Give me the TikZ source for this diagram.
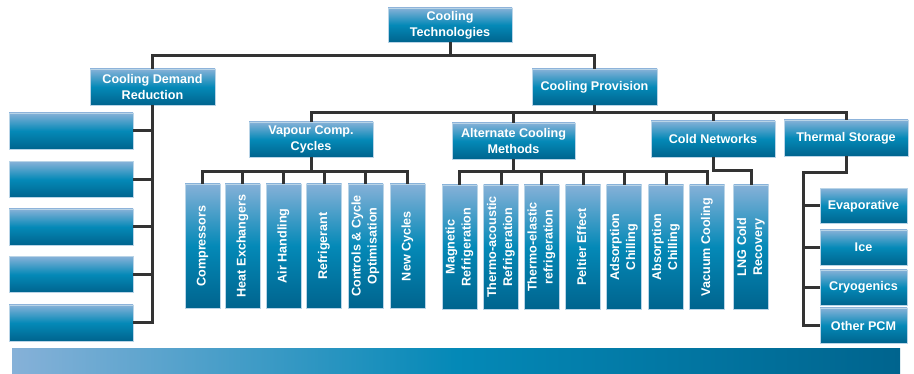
\documentclass[tikz,border=0pt]{standalone}
\usepackage{fontspec}
\setmainfont{Liberation Sans}
\usepackage{graphicx}
\definecolor{btop}{HTML}{86B1D8}
\definecolor{bmid}{HTML}{0489B7}
\definecolor{bbot}{HTML}{00648E}
\definecolor{bedge}{HTML}{B9D4E7}
\definecolor{lineclr}{HTML}{333333}
\newcommand{\vlab}[1]{\rotatebox{90}{\begin{tabular}{@{}c@{}}#1\end{tabular}}}
\begin{document}
\begin{tikzpicture}[x=1pt,y=-1pt,
  boxbase/.style={draw=bedge, line width=0.8pt, top color=btop, bottom color=bbot, middle color=bmid,
    text=white, font=\fontsize{12.6}{16}\selectfont\bfseries, align=center, inner sep=0pt},
  hbox/.style={boxbase, minimum width=124pt, minimum height=36pt},
  vbox/.style={boxbase, minimum width=35pt, minimum height=124pt},
  tbox/.style={boxbase, minimum width=87pt, minimum height=35pt},
  conn/.style={draw=lineclr, line width=3pt, line join=miter}
]
\useasboundingbox (0,0) rectangle (914,374);

% bottom bar
\node[draw=none, inner sep=0pt, minimum width=888pt, minimum height=25pt,
  left color=btop, right color=bbot, middle color=bmid] (bar) at (456,361.5) {};

% top levels
\node[hbox, minimum height=34pt] (CT) at (450,25) {Cooling\\Technologies};
\node[hbox, minimum width=125pt] (CDR) at (152.5,87) {Cooling Demand\\Reduction};
\node[hbox, minimum width=125pt] (CP) at (594.5,87) {Cooling Provision};

% demand reduction boxes
\foreach \i/\yy in {1/131,2/179.5,3/227,4/274.5,5/323}
  \node[hbox] (L\i) at (71,\yy) {};

% provision level
\node[hbox, minimum height=35pt] (VCC) at (311,139.5) {Vapour Comp.\\Cycles};
\node[hbox, minimum width=123pt] (ACM) at (513.5,141) {Alternate Cooling\\Methods};
\node[hbox] (CN) at (713,139) {Cold Networks};
\node[hbox] (TS) at (846,138) {Thermal Storage};

% vapour compression children
\node[vbox] (V1) at (202.5,246) {\vlab{Compressors}};
\node[vbox] (V2) at (242.5,246) {\vlab{Heat Exchangers}};
\node[vbox] (V3) at (283.5,246) {\vlab{Air Handling}};
\node[vbox] (V4) at (324,246) {\vlab{Refrigerant}};
\node[vbox] (V5) at (365.5,246) {\vlab{Controls \& Cycle\\Optimisation}};
\node[vbox] (V6) at (407.5,246) {\vlab{New Cycles}};

% alternate cooling children
\node[vbox] (A1) at (459.5,247) {\vlab{Magnetic\\Refrigeration}};
\node[vbox] (A2) at (501,247) {\vlab{Thermo-acoustic\\Refrigeration}};
\node[vbox] (A3) at (541.5,247) {\vlab{Thermo-elastic\\refrigeration}};
\node[vbox] (A4) at (583,247) {\vlab{Peltier Effect}};
\node[vbox] (A5) at (624,247) {\vlab{Adsorption\\Chilling}};
\node[vbox] (A6) at (666,247) {\vlab{Absorption\\Chilling}};
\node[vbox] (A7) at (707,247) {\vlab{Vacuum Cooling}};
\node[vbox] (LNG) at (751,247) {\vlab{LNG Cold\\Recovery}};

% thermal storage children
\node[tbox] (T1) at (863.5,206) {Evaporative};
\node[tbox] (T2) at (863.5,247.5) {Ice};
\node[tbox] (T3) at (863.5,287.5) {Cryogenics};
\node[tbox] (T4) at (863.5,325.5) {Other PCM};

% bus coordinates
\coordinate (b1) at (0,56);
\coordinate (b2) at (0,113);
\coordinate (b3) at (0,172);
\coordinate (cnj) at (0,171);
\coordinate (tsj) at (803,173);

% connectors
\draw[conn] (CDR.north) -- (CDR.north |- b1) -- (CP.north |- b1) -- (CP.north);
\draw[conn] (CT.south) -- (CT.south |- b1);

\draw[conn] (CDR.south) |- (L5.east);
\foreach \i in {1,2,3,4}
  \draw[conn] (L\i.east) -- (CDR.south |- L\i.east);

\draw[conn] (VCC.north) -- (VCC.north |- b2) -- (TS.north |- b2) -- (TS.north);
\draw[conn] (CP.south) -- (CP.south |- b2);
\draw[conn] (ACM.north) -- (ACM.north |- b2);
\draw[conn] (CN.north) -- (CN.north |- b2);

\draw[conn] (V1.north) -- (V1.north |- b3) -- (V6.north |- b3) -- (V6.north);
\draw[conn] (VCC.south) -- (VCC.south |- b3);
\foreach \i in {2,3,4,5}
  \draw[conn] (V\i.north) -- (V\i.north |- b3);

\draw[conn] (A1.north) -- (A1.north |- b3) -- (A7.north |- b3) -- (A7.north);
\draw[conn] (ACM.south) -- (ACM.south |- b3);
\foreach \i in {2,3,4,5,6}
  \draw[conn] (A\i.north) -- (A\i.north |- b3);

\draw[conn] (CN.south) -- (CN.south |- cnj) -- (LNG.north |- cnj) -- (LNG.north);

\draw[conn] (TS.south) |- (tsj) |- (T4.west);
\foreach \i in {1,2,3}
  \draw[conn] (T\i.west) -- (tsj |- T\i.west);
\end{tikzpicture}
\end{document}
